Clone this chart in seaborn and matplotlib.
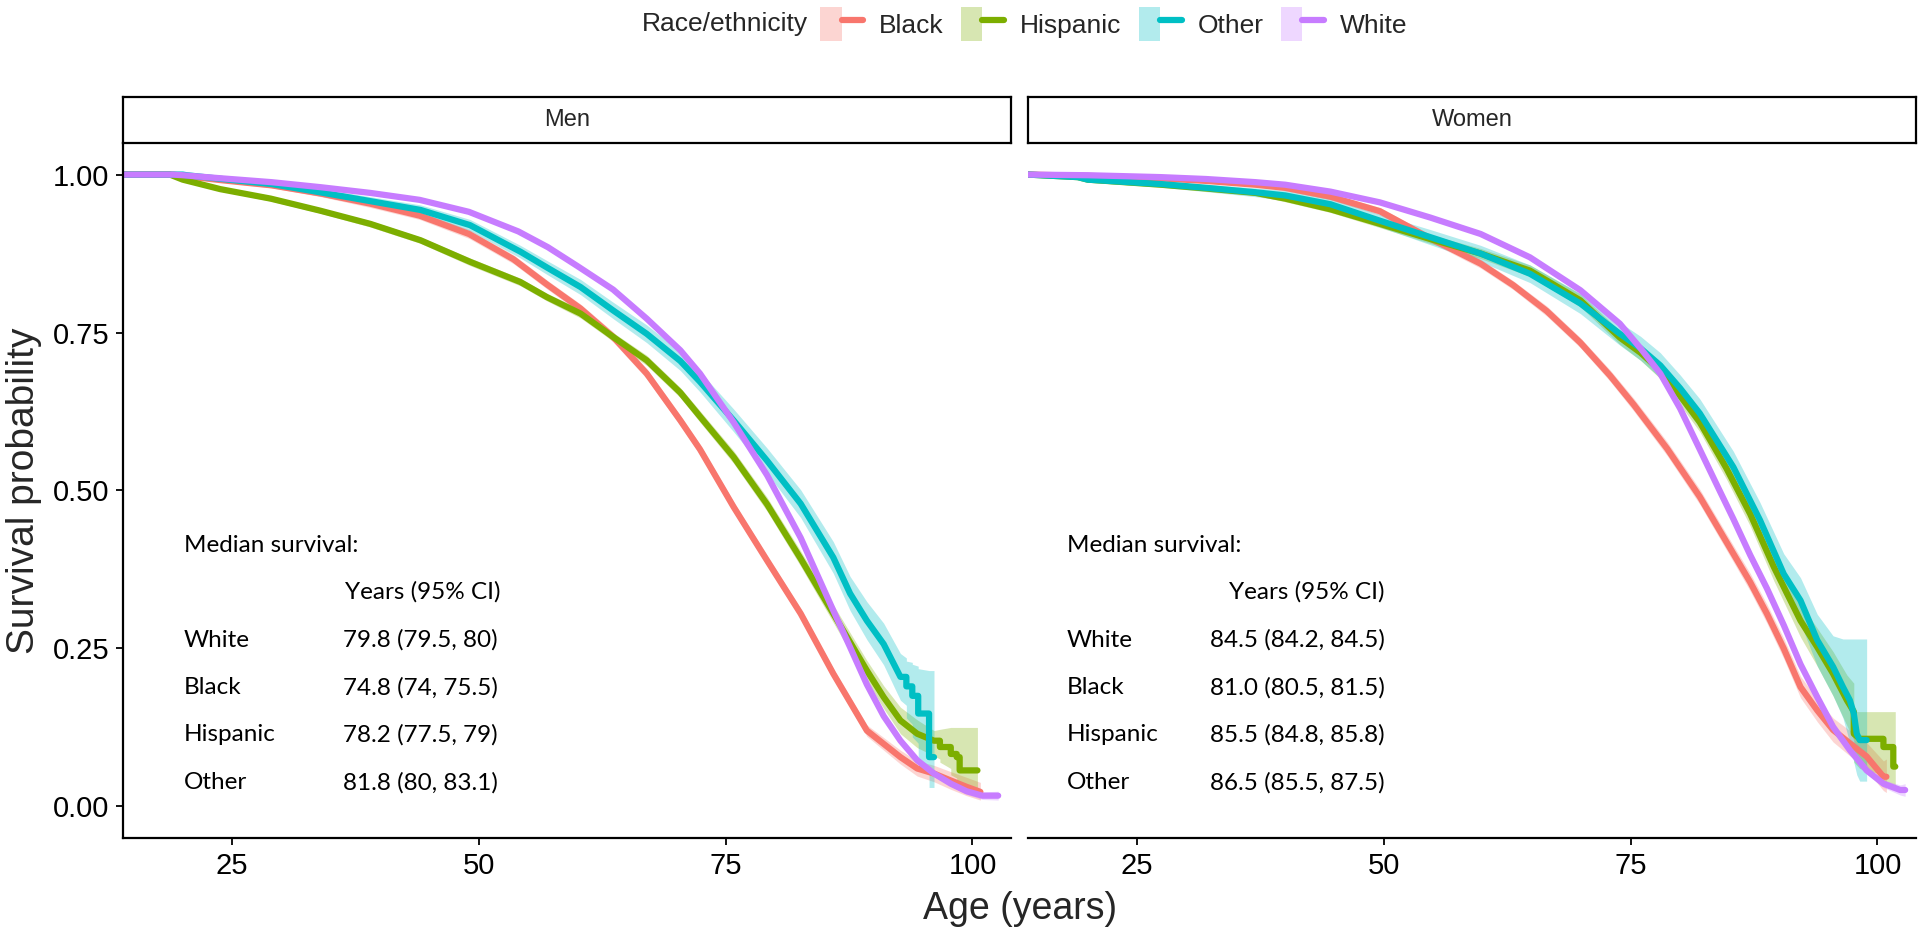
import numpy as np
import pandas as pd
import seaborn as sns
import matplotlib.pyplot as plt
from matplotlib.patches import Patch
from matplotlib.lines import Line2D
from matplotlib.legend_handler import HandlerTuple

sns.set_style("white")
plt.rcParams['font.family'] = ['Liberation Sans', 'DejaVu Sans']

groups = ["Black", "Hispanic", "Other", "White"]
palette = {"Black": "#F8766D", "Hispanic": "#7CAE00", "Other": "#00BFC4", "White": "#C77CFF"}

# ---- Men: Kaplan-Meier estimates ----
ages_mw = [14, 19, 20, 24, 29, 34, 39, 44, 49, 54, 57, 60, 63.6, 67, 70.4, 72.4, 75.8, 79.2, 82.6, 85.9,
           87.6, 89.3, 91.0, 92.7, 94.4, 96.1, 97.8, 99.4, 101.0, 102.6]
surv_mw = [1.0, 1.0, .999, .994, .988, .980, .971, .960, .941, .910, .885, .855, .818, .772, .722, .685,
           .608, .524, .425, .310, .252, .193, .143, .104, .073, .052, .036, .024, .017, .017]
lo_mw = [1.0, 1.0, .998, .992, .986, .977, .968, .957, .938, .907, .882, .852, .815, .769, .719, .682,
         .605, .521, .422, .307, .249, .190, .140, .101, .070, .049, .032, .019, .011, .010]
hi_mw = [1.0, 1.0, 1.0, .996, .990, .983, .974, .963, .944, .913, .888, .858, .821, .775, .725, .688,
         .611, .527, .428, .313, .255, .196, .146, .107, .076, .055, .040, .029, .023, .024]

ages_mb = [14, 19, 20, 24, 29, 34, 39, 44, 49, 53.5, 56.9, 60.3, 63.6, 67, 70.4, 72.4, 75.8, 79.2, 82.6,
           85.9, 89.3, 91.0, 92.7, 94.4, 96.1, 97.8, 99.4, 100.8]
surv_mb = [1.0, 1.0, .998, .991, .983, .970, .954, .935, .906, .866, .826, .788, .743, .685, .611, .565,
           .474, .389, .305, .210, .120, .099, .078, .060, .052, .041, .031, .023]
lo_mb = [1.0, 1.0, .997, .988, .979, .965, .948, .929, .899, .859, .819, .781, .735, .677, .603, .557,
         .466, .381, .297, .202, .111, .089, .067, .048, .039, .027, .017, .010]
hi_mb = [1.0, 1.0, .999, .994, .987, .975, .960, .941, .913, .873, .833, .795, .751, .693, .619, .573,
         .482, .397, .313, .218, .129, .109, .089, .072, .065, .055, .046, .038]

ages_mh = [14, 18.7, 20, 23.8, 28.9, 33.9, 39, 44.1, 49.1, 54.2, 56.9, 60.3, 63.6, 67, 70.4, 72.4, 75.8,
           79.2, 82.6, 85.9, 87.6, 89.3, 91.0, 92.7, 94.4, 96.1, 96.7, 96.7, 97.8, 97.8, 98.4, 98.4, 98.7,
           98.7, 100.5]
surv_mh = [1.0, 1.0, .992, .977, .962, .943, .922, .896, .862, .830, .806, .780, .743, .706, .655, .617,
           .553, .478, .392, .305, .260, .215, .173, .136, .115, .104, .104, .094, .094, .083, .083, .078,
           .078, .057, .057]
lo_mh = [1.0, 1.0, .990, .974, .958, .939, .917, .891, .856, .824, .800, .773, .736, .698, .647, .608,
         .543, .467, .380, .291, .245, .199, .155, .115, .093, .080, .075, .070, .060, .050, .045, .035,
         .030, .025, .025]
hi_mh = [1.0, 1.0, .994, .980, .966, .947, .927, .901, .868, .836, .812, .787, .750, .714, .663, .626,
         .563, .489, .404, .319, .275, .231, .191, .157, .137, .120, .122, .122, .125, .125, .125, .125,
         .125, .125, .125]

ages_mo = [14, 20, 20.4, 24, 29, 33.9, 39, 44.1, 49.1, 54.2, 57, 60.3, 63.6, 67, 70.4, 72.4, 75.8, 79.2,
           82.6, 85.9, 87.6, 89.3, 91.0, 92.7, 93.3, 93.3, 93.9, 93.9, 94.5, 94.5, 95.6, 95.6, 96.1]
surv_mo = [1.0, 1.0, .999, .993, .985, .972, .958, .944, .920, .878, .852, .822, .785, .748, .705, .672,
           .611, .547, .479, .394, .337, .294, .257, .205, .205, .190, .190, .175, .175, .147, .147, .078,
           .078]
lo_mo = [1.0, 1.0, .997, .989, .980, .966, .951, .936, .911, .868, .841, .810, .772, .734, .690, .656,
         .593, .527, .457, .369, .310, .264, .224, .168, .160, .140, .130, .110, .100, .070, .060, .030,
         .030]
hi_mo = [1.0, 1.0, 1.0, .997, .990, .978, .965, .952, .929, .888, .863, .834, .798, .762, .720, .688,
         .629, .567, .501, .419, .364, .324, .290, .242, .235, .230, .228, .225, .222, .218, .215, .215,
         .215]

# ---- Women ----
ages_ww = [14, 20, 27.4, 32, 37, 40, 44.6, 49.6, 54.7, 59.8, 64.8, 69.9, 73.9, 76.0, 78.0, 80.0, 82.0,
           84.0, 85.4, 87.1, 88.8, 90.5, 92.2, 93.9, 95.5, 97.2, 98.9, 100.6, 102.3, 102.8]
surv_ww = [1.0, .999, .996, .993, .988, .984, .973, .956, .932, .906, .869, .817, .764, .725, .685, .630,
           .565, .500, .455, .398, .345, .287, .225, .173, .126, .089, .057, .036, .026, .026]
lo_ww = [1.0, .998, .994, .991, .986, .981, .970, .953, .929, .903, .866, .814, .761, .722, .682, .627,
         .562, .497, .452, .395, .342, .284, .222, .170, .123, .085, .052, .030, .018, .016]
hi_ww = [1.0, 1.0, .998, .995, .990, .987, .976, .959, .935, .909, .872, .820, .767, .728, .688, .633,
         .568, .503, .458, .401, .348, .290, .228, .176, .129, .093, .062, .042, .034, .036]

ages_wb = [14, 20, 27.4, 32, 37, 40, 44.6, 49.6, 54.7, 59.8, 63.1, 66.5, 69.9, 72.9, 75.3, 78.7, 82.0,
           85.4, 87.1, 88.8, 90.5, 92.2, 93.9, 95.5, 97.2, 98.9, 100.6, 100.9]
surv_wb = [1.0, .998, .994, .990, .984, .979, .965, .942, .899, .859, .825, .784, .734, .682, .636, .566,
           .490, .400, .355, .305, .250, .189, .152, .121, .100, .079, .047, .047]
lo_wb = [1.0, .997, .992, .987, .980, .975, .960, .936, .893, .852, .818, .776, .726, .673, .626, .555,
         .478, .387, .341, .290, .234, .172, .134, .102, .080, .057, .025, .022]
hi_wb = [1.0, .999, .996, .993, .988, .983, .970, .948, .905, .866, .832, .792, .742, .691, .646, .577,
         .502, .413, .369, .320, .266, .206, .170, .140, .120, .101, .072, .075]

ages_wh = [14, 19, 20, 27.4, 32, 37, 40, 44.6, 49.6, 54.7, 59.8, 64.8, 69.9, 73.9, 76.0, 78.0, 80.0, 82.0,
           84.7, 87.1, 89.5, 92.2, 93.9, 95.5, 96.9, 97.6, 97.6, 98.2, 100.6, 100.6, 101.6, 101.6, 101.8]
surv_wh = [1.0, .996, .992, .984, .978, .971, .962, .945, .922, .898, .875, .848, .801, .742, .718, .690,
           .650, .608, .535, .463, .379, .294, .252, .210, .168, .150, .115, .107, .107, .094, .094, .063,
           .063]
lo_wh = [1.0, .994, .990, .981, .975, .967, .957, .940, .916, .891, .867, .839, .791, .731, .706, .677,
         .636, .593, .518, .444, .357, .268, .222, .175, .128, .105, .070, .060, .050, .040, .035, .030,
         .030]
hi_wh = [1.0, .998, .994, .987, .981, .975, .967, .950, .928, .905, .883, .857, .811, .753, .730, .703,
         .664, .623, .552, .482, .401, .320, .282, .245, .208, .195, .150, .150, .150, .150, .150, .150,
         .150]

ages_wo = [14, 19, 20, 27.4, 32, 37, 40, 44.6, 49.6, 54.7, 59.8, 64.8, 69.9, 73.9, 76.0, 78.0, 80.0, 82.0,
           85.4, 88.1, 90.5, 92.2, 93.9, 95.5, 96.5, 97.2, 97.6, 97.9, 98.2, 98.9]
surv_wo = [1.0, .996, .992, .985, .979, .972, .967, .953, .927, .901, .875, .843, .796, .748, .725, .698,
           .662, .622, .537, .453, .368, .326, .263, .221, .189, .168, .147, .115, .105, .105]
lo_wo = [1.0, .993, .988, .980, .973, .965, .959, .944, .917, .889, .862, .829, .780, .730, .706, .678,
         .641, .599, .512, .425, .336, .290, .222, .175, .140, .100, .070, .050, .040, .040]
hi_wo = [1.0, .999, .996, .990, .985, .979, .975, .962, .937, .913, .888, .857, .812, .766, .744, .718,
         .683, .645, .562, .481, .400, .362, .304, .270, .265, .265, .265, .265, .265, .265]

# median survival table shown in each panel
table_rows = ["White", "Black", "Hispanic", "Other"]
men_medians = ["79.8 (79.5, 80)", "74.8 (74, 75.5)", "78.2 (77.5, 79)", "81.8 (80, 83.1)"]
women_medians = ["84.5 (84.2, 84.5)", "81.0 (80.5, 81.5)", "85.5 (84.8, 85.8)", "86.5 (85.5, 87.5)"]

series = {
    ("Men", "Black"): (ages_mb, surv_mb, lo_mb, hi_mb),
    ("Men", "Hispanic"): (ages_mh, surv_mh, lo_mh, hi_mh),
    ("Men", "Other"): (ages_mo, surv_mo, lo_mo, hi_mo),
    ("Men", "White"): (ages_mw, surv_mw, lo_mw, hi_mw),
    ("Women", "Black"): (ages_wb, surv_wb, lo_wb, hi_wb),
    ("Women", "Hispanic"): (ages_wh, surv_wh, lo_wh, hi_wh),
    ("Women", "Other"): (ages_wo, surv_wo, lo_wo, hi_wo),
    ("Women", "White"): (ages_ww, surv_ww, lo_ww, hi_ww),
}
frames = []
for (sex, grp), (a, s, lo, hi) in series.items():
    frames.append(pd.DataFrame({"sex": sex, "group": grp, "age": a, "surv": s, "lo": lo, "hi": hi}))
df = pd.concat(frames, ignore_index=True)

W, H = 1920, 927
fig = plt.figure(figsize=(W / 100, H / 100), dpi=100)
fig.patch.set_facecolor("white")

panel_w = 888 / W
panel_b = 1 - 838 / H
panel_h = (838 - 143) / H
lefts = [123 / W, 1028 / W]
LW = 4.5

for i, sex in enumerate(["Men", "Women"]):
    ax = fig.add_axes([lefts[i], panel_b, panel_w, panel_h])
    sub = df[df["sex"] == sex]
    for g in groups:
        d = sub[sub["group"] == g]
        ax.fill_between(d["age"], d["lo"], d["hi"], color=palette[g], alpha=0.3, lw=0)
    sns.lineplot(data=sub, x="age", y="surv", hue="group", hue_order=groups, palette=palette,
                 estimator=None, sort=False, lw=LW, legend=False, ax=ax)
    ax.set_xlim(13.95, 103.9)
    ax.set_ylim(-0.05, 1.05)
    ax.set_xticks([25, 50, 75, 100])
    ax.set_xlabel("")
    ax.set_ylabel("")
    for sp in ["top", "right"]:
        ax.spines[sp].set_visible(False)
    ax.spines["bottom"].set_linewidth(1.6)
    ax.spines["bottom"].set_color("black")
    ax.tick_params(axis="both", labelsize=21, length=5, width=1.3, pad=5, colors="black",
                   direction="out", bottom=True, left=True)
    if i == 0:
        ax.set_yticks([0, 0.25, 0.5, 0.75, 1.0])
        ax.set_yticklabels(["0.00", "0.25", "0.50", "0.75", "1.00"])
        ax.spines["left"].set_linewidth(1.6)
        ax.spines["left"].set_color("black")
    else:
        ax.spines["left"].set_visible(False)
        ax.set_yticks([])

    # median survival annotation
    if i == 0:
        xl, xv, xh, meds = 20.1, 36.2, 36.4, men_medians
    else:
        xl, xv, xh, meds = 17.9, 32.4, 34.3, women_medians
    tfont = dict(family=["Lato", "DejaVu Sans"], fontsize=17.5, va="center", color="black")
    ax.text(xl, 0.413, "Median survival:", ha="left", **tfont)
    ax.text(xh, 0.340, "Years (95% CI)", ha="left", **tfont)
    for r, (lab, val) in enumerate(zip(table_rows, meds)):
        yy = [0.263, 0.188, 0.114, 0.038][r]
        ax.text(xl, yy, lab, ha="left", **tfont)
        ax.text(xv, yy, val, ha="left", **tfont)

    # facet strip
    sax = fig.add_axes([lefts[i], 1 - 143 / H, panel_w, 46 / H])
    sax.set_xticks([])
    sax.set_yticks([])
    for sp in sax.spines.values():
        sp.set_visible(True)
        sp.set_linewidth(1.6)
        sp.set_color("black")
    sax.text(0.5, 0.5, sex, ha="center", va="center", fontsize=17, transform=sax.transAxes)

fig.text(24 / W, 0.4709, "Survival probability", rotation=90, ha="center", va="center", fontsize=28)
fig.text(1020 / W, 1 - 919 / H, "Age (years)", ha="center", va="baseline", fontsize=27)

handles = [(Patch(facecolor=palette[g], alpha=0.3, edgecolor="none"),
            Line2D([], [], color=palette[g], lw=LW)) for g in groups]
fig.legend(handles=handles, labels=groups, handler_map={tuple: HandlerTuple(ndivide=None, pad=0)},
           ncol=4, loc="center left", bbox_to_anchor=(820 / W, 1 - 24 / H), frameon=False, fontsize=19,
           handlelength=1.63, handleheight=1.63, handletextpad=0.6, columnspacing=0.66,
           borderaxespad=0, borderpad=0)
fig.text(808 / W, 1 - 24 / H, "Race/ethnicity", ha="right", va="center", fontsize=19)

fig.savefig("out.png", dpi=100, facecolor="white")
